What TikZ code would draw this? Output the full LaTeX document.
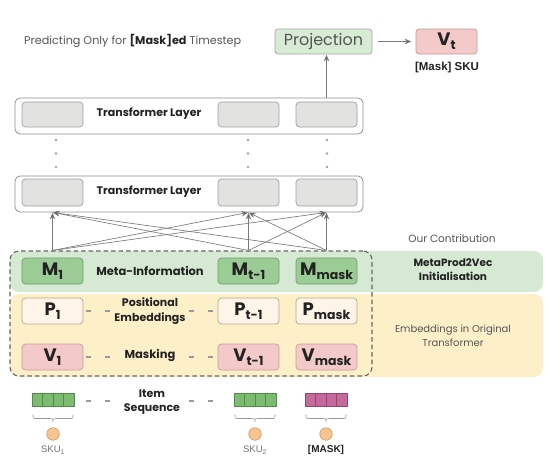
\documentclass[tikz,border=0pt]{standalone}
\usepackage{fontspec}
\setmainfont{Poppins}
\newfontfamily\arialish{Liberation Sans}
\usetikzlibrary{arrows.meta,calc}
\definecolor{gband}{HTML}{D6E9D3}
\definecolor{yband}{HTML}{FDF0C8}
\definecolor{mfill}{HTML}{9CCC95}
\definecolor{mdraw}{HTML}{6F9E69}
\definecolor{pfill}{HTML}{FEF5E8}
\definecolor{pdraw}{HTML}{B9A48A}
\definecolor{vfill}{HTML}{F4C9CA}
\definecolor{vdraw}{HTML}{C99A9B}
\definecolor{tlfill}{HTML}{E2E2E0}
\definecolor{tldraw}{HTML}{A0A0A0}
\definecolor{projfill}{HTML}{D8EBD5}
\definecolor{txt}{HTML}{222222}
\definecolor{soft}{HTML}{555555}
\definecolor{arrc}{HTML}{7A7A7A}
\definecolor{arrh}{HTML}{555555}
\definecolor{barg}{HTML}{7DBB70}
\definecolor{bargd}{HTML}{4F8A47}
\definecolor{barm}{HTML}{C4699B}
\definecolor{barmd}{HTML}{974570}
\definecolor{skuo}{HTML}{F8C490}
\definecolor{skuod}{HTML}{C9935F}
\newcommand\celllab[2]{{\fontsize{18}{18}\selectfont\bfseries #1\raisebox{-4pt}{\fontsize{12.5}{12.5}\selectfont #2}}}
\begin{document}
\begin{tikzpicture}[x=1pt,y=-1pt,
  cell/.style={rounded corners=3.5, line width=0.7, minimum width=61, minimum height=26, inner sep=0, text=txt},
  mcell/.style={cell, fill=mfill, draw=mdraw},
  pcell/.style={cell, fill=pfill, draw=pdraw},
  vcell/.style={cell, fill=vfill, draw=vdraw},
  tlcell/.style={cell, fill=tlfill, draw=tldraw},
  tlbox/.style={draw=tldraw!90!black, line width=0.8, rounded corners=5, fill=white, minimum width=348, minimum height=36, inner sep=0},
  boldlab/.style={font=\fontsize{11}{12}\selectfont\bfseries, text=txt, align=center},
  arr/.style={draw=arrc, line width=0.65, -{Stealth[length=6.5pt,width=5.5pt,fill=arrh]}, shorten >=0.5pt},
  dashpair/.style={draw=gray!80, line width=1.1, dash pattern=on 5pt off 14pt},
  dotcol/.style={fill=gray!75},
  barbox/.style={line width=0.5},
  skuc/.style={circle, fill=skuo, draw=skuod, line width=0.6, minimum size=12.5, inner sep=0},
  skul/.style={font=\arialish\fontsize{9.5}{10}\selectfont, text=gray!90!black},
  brc/.style={draw=gray!80, line width=0.6}
]
\useasboundingbox (0,0) rectangle (548,467);
\fill[white] (0,0) rectangle (548,467);

% column coordinates
\coordinate (c1) at (52.5,0);
\coordinate (c2) at (248.5,0);
\coordinate (c3) at (326.5,0);

% bands
\fill[gband, rounded corners=9] (10,251) rectangle (543,292);
\fill[yband, rounded corners=9] (10,294) rectangle (543,377);
\node[draw=gray!80!black, dashed, dash pattern=on 4.5pt off 3pt, line width=1.1, rounded corners=9,
      minimum width=362, minimum height=125, inner sep=0] (emb) at (191,313.5) {};

% title line
\node[anchor=west, font=\fontsize{11.2}{12}\selectfont, text=soft, inner sep=0] (pred) at (24,41)
  {Predicting Only for \textbf{\color{txt}[Mask]ed} Timestep};

% projection and output
\node[draw=gray!70, fill=projfill, line width=0.7, rounded corners=3, minimum width=97, minimum height=25,
      inner sep=0, font=\fontsize{16}{16}\selectfont, text=soft] (proj) at (323.5,41.5) {Projection};
\node[draw=vdraw, fill=vfill, line width=0.7, rounded corners=3, minimum width=61, minimum height=25,
      inner sep=0, text=txt] (vt) at (446.5,41.5) {\raisebox{3pt}{\celllab{V}{t}}};
\node[font=\arialish\fontsize{11.5}{12}\selectfont\bfseries, text=txt] (masksku) at (447,68) {[Mask] SKU};
\draw[arr] (proj.east) ++(6,0) coordinate (pe) (pe) -- ([xshift=-4pt]vt.west);

% transformer layers
\node[tlbox] (tlup) at (189,116) {};
\node[tlbox] (tllo) at (189,194) {};
\foreach \c/\n in {c1/1,c2/2,c3/3}{
  \node[tlcell, minimum height=25] (u\n) at (\c |- 0,114.5) {};
  \node[tlcell, minimum height=27] (l\n) at (\c |- 0,192.5) {};
}
\node[boldlab] (tlupt) at (149,114) {Transformer Layer};
\node[boldlab] (tllot) at (149,192) {Transformer Layer};

% vertical dots
\foreach \x in {56,248,327}{
  \foreach \y in {140,153.5,167}{
    \fill[dotcol] (\x,\y) circle (1.3);
  }
}

% arrow to projection
\draw[arr] (tlup.north -| c3) -- (proj.south -| c3);

% fully connected arrows
\foreach \s in {c1,c2,c3}{
  \foreach \t in {c1,c2,c3}{
    \draw[arr] (emb.north -| \s) -- (tllo.south -| \t);
  }
}

% embedding cells
\node[mcell] (m1) at (c1 |- 0,271) {\celllab{M}{1}};
\node[mcell] (m2) at (c2 |- 0,271) {\celllab{M}{t-1}};
\node[mcell] (m3) at (c3 |- 0,271) {\celllab{M}{mask}};
\node[pcell] (p1) at (c1 |- 0,311) {\celllab{P}{1}};
\node[pcell] (p2) at (c2 |- 0,311) {\celllab{P}{t-1}};
\node[pcell] (p3) at (c3 |- 0,311) {\celllab{P}{mask}};
\node[vcell] (v1) at (c1 |- 0,357) {\celllab{V}{1}};
\node[vcell] (v2) at (c2 |- 0,357) {\celllab{V}{t-1}};
\node[vcell] (v3) at (c3 |- 0,357) {\celllab{V}{mask}};

\node[boldlab, font=\fontsize{11.5}{12}\selectfont\bfseries] (metat) at (150,271) {Meta-Information};
\node[boldlab, font=\fontsize{11}{14.5}\selectfont\bfseries] (post) at (150,311) {Positional\\Embeddings};
\node[boldlab, font=\fontsize{11.5}{12}\selectfont\bfseries] (maskt) at (150,355) {Masking};

\draw[dashpair] (85.5,311) -- (111,311);
\draw[dashpair] (188.5,311) -- (214,311);
\draw[dashpair] (85.5,357) -- (111,357);
\draw[dashpair] (188.5,357) -- (214,357);

% right side texts
\node[font=\fontsize{10.5}{11}\selectfont, text=soft] (ourc) at (452,239) {Our Contribution};
\node[boldlab, font=\fontsize{10.5}{14}\selectfont\bfseries] (mp2v) at (453,270) {MetaProd2Vec\\Initialisation};
\node[align=center, font=\fontsize{10}{14}\selectfont, text=soft] (orig) at (453,336) {Embeddings in Original\\Transformer};

% item sequence
\foreach \x/\f/\d in {32/barg/bargd, 234/barg/bargd, 305/barm/barmd}{
  \foreach \k in {0,1,2,3}{
    \draw[barbox, fill=\f, draw=\d] (\x+\k*10.5,393.5) rectangle +(10.5,13);
  }
  \draw[brc] (\x+1,414.5) .. controls (\x+1,418.5) .. (\x+5,418.5) -- (\x+18,418.5)
     .. controls (\x+21,418.5) .. (\x+21,422) .. controls (\x+21,418.5) .. (\x+24,418.5)
     -- (\x+37,418.5) .. controls (\x+41,418.5) .. (\x+41,414.5);
}
\draw[dashpair] (85.5,401) -- (111,401);
\draw[dashpair] (188.5,401) -- (214,401);
\node[boldlab, font=\fontsize{11}{14}\selectfont\bfseries] (itemt) at (152,402) {Item\\Sequence};

\node[skuc] (s1) at (53,434) {};
\node[skuc] (s2) at (255,434) {};
\node[skuc] (s3) at (326,434) {};
\node[skul] (s1l) at (53,450) {SKU\textsubscript{1}};
\node[skul] (s2l) at (255,450) {SKU\textsubscript{2}};
\node[font=\arialish\fontsize{10}{10}\selectfont\bfseries, text=txt] (s3l) at (326,450) {[MASK]};
\end{tikzpicture}
\end{document}
